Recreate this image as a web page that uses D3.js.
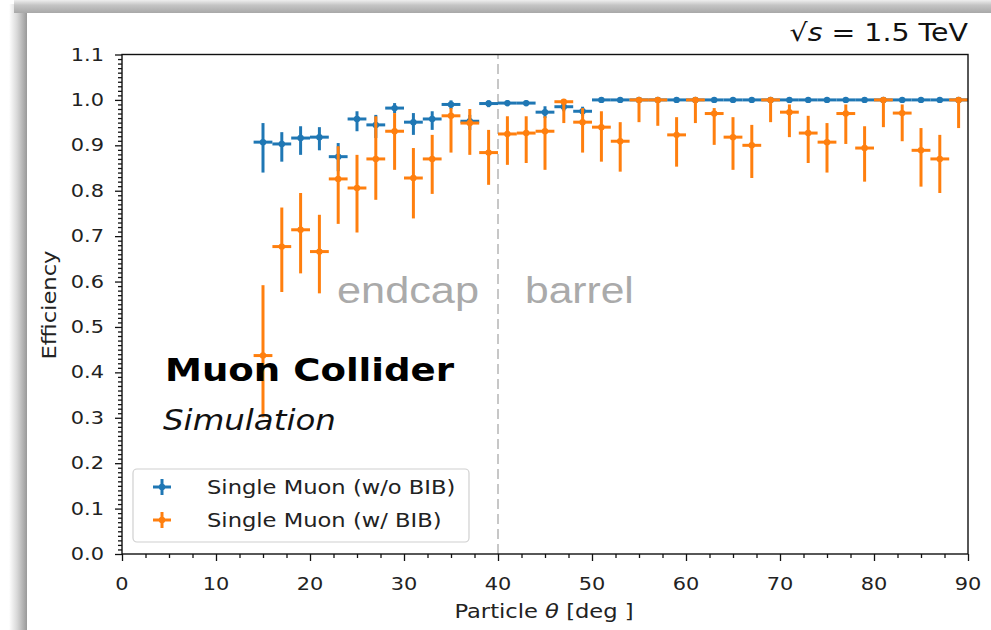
<!DOCTYPE html>
<html>
<head>
<meta charset="utf-8">
<script src="https://cdn.jsdelivr.net/npm/d3@7"></script>
<style>
  html, body { margin: 0; padding: 0; background: #fff; }
  svg { display: block; }
</style>
</head>
<body>
<svg id="chart" width="991" height="630"></svg>
<script>
// ---------------- DATA ----------------
const thetaBins = [15,17,19,21,23,25,27,29,31,33,35,37,39,41,43,45,47,49,51,53,55,57,59,61,63,65,67,69,71,73,75,77,79,81,83,85,87,89];
const binHalfWidth = 1;

const effNoBIB = [0.907,0.903,0.916,0.918,0.875,0.958,0.945,0.982,0.951,0.958,0.990,0.953,0.992,0.993,0.993,0.973,0.985,0.975,
  1.0,1.0,1.0,1.0,1.0,1.0,1.0,1.0,1.0,1.0,1.0,1.0,1.0,1.0,1.0,1.0,1.0,1.0,1.0,1.0];
const errLoNoBIB = [0.067,0.039,0.037,0.029,0.032,0.027,0.029,0.011,0.028,0.024,0.010,0.019,0.008,0.007,0.007,0.013,0.010,0.010,
  0.002,0.002,0.002,0.002,0.002,0.002,0.002,0.002,0.002,0.002,0.002,0.002,0.002,0.002,0.002,0.002,0.002,0.002,0.002,0.002];
const errHiNoBIB = [0.042,0.026,0.026,0.022,0.030,0.017,0.022,0.011,0.020,0.017,0.009,0.014,0.007,0.006,0.006,0.013,0.010,0.010,
  0,0,0,0,0,0,0,0,0,0,0,0,0,0,0,0,0,0,0,0];

const effBIB = [0.437,0.677,0.714,0.666,0.826,0.806,0.870,0.931,0.828,0.870,0.965,0.949,0.884,0.925,0.927,0.931,0.996,0.951,
  0.940,0.909,1.0,1.0,0.923,1.0,0.970,0.918,0.900,1.0,0.973,0.927,0.907,0.970,0.894,1.0,0.971,0.889,0.870,1.0];
const errLoBIB = [0.136,0.100,0.096,0.092,0.099,0.098,0.090,0.085,0.089,0.077,0.081,0.070,0.071,0.068,0.066,0.085,0.047,0.067,
  0.076,0.067,0.049,0.057,0.070,0.051,0.069,0.072,0.072,0.049,0.055,0.066,0.067,0.067,0.074,0.060,0.062,0.080,0.075,0.062];
const errHiBIB = [0.155,0.086,0.081,0.081,0.072,0.073,0.094,0.040,0.066,0.053,0.017,0.031,0.050,0.039,0.037,0.033,0.004,0.031,
  0.035,0.042,0,0,0.039,0,0.012,0.044,0.045,0,0.017,0.038,0.042,0.020,0.048,0,0.019,0.049,0.053,0];

const seriesNames = ["Single Muon (w/o BIB)", "Single Muon (w/ BIB)"];
const seriesColors = ["#1f77b4", "#ff7f0e"];

const xTickValues = [0,10,20,30,40,50,60,70,80,90];
const yTickValues = [0.0,0.1,0.2,0.3,0.4,0.5,0.6,0.7,0.8,0.9,1.0,1.1];
const regionLabels = ["endcap", "barrel"];
const boundaryTheta = 40;

// ---------------- LAYOUT ----------------
const W = 991, H = 630;
const plot = { left: 122, right: 968, top: 54.5, bottom: 554 };
const SX = 1.16; // horizontal text stretch of the original rendering
const FONT = "'DejaVu Sans', sans-serif";

const svg = d3.select("#chart");

// drop-shadow frame
const defs = svg.append("defs");
const gl = defs.append("linearGradient").attr("id", "shadowL").attr("x1", 0).attr("x2", 1).attr("y1", 0).attr("y2", 0);
gl.append("stop").attr("offset", "0%").attr("stop-color", "#ffffff");
gl.append("stop").attr("offset", "45%").attr("stop-color", "#d8d8d8");
gl.append("stop").attr("offset", "100%").attr("stop-color", "#999999");
const gt = defs.append("linearGradient").attr("id", "shadowT").attr("x1", 0).attr("x2", 0).attr("y1", 0).attr("y2", 1);
gt.append("stop").attr("offset", "0%").attr("stop-color", "#eeeeee");
gt.append("stop").attr("offset", "40%").attr("stop-color", "#c4c4c4");
gt.append("stop").attr("offset", "100%").attr("stop-color", "#a8a8a8");

svg.append("rect").attr("x", 0).attr("y", 0).attr("width", W).attr("height", H).attr("fill", "#fff");
svg.append("rect").attr("x", 9).attr("y", 4).attr("width", 18).attr("height", H - 4).attr("fill", "url(#shadowL)");
svg.append("rect").attr("x", 14).attr("y", 0).attr("width", W - 14).attr("height", 13).attr("fill", "url(#shadowT)");
svg.append("rect").attr("x", 27).attr("y", 13).attr("width", W - 27).attr("height", H - 13).attr("fill", "#fff");

// ---------------- SCALES ----------------
const x = d3.scaleLinear().domain([0, 90]).range([plot.left, plot.right]);
const y = d3.scaleLinear().domain([0, 1.1]).range([plot.bottom, plot.top]);

function stretchedText(g, px, py, str, opts = {}) {
  const t = g.append("text")
    .attr("transform", `translate(${px},${py})` + (opts.rotate ? ` rotate(${opts.rotate})` : "") + ` scale(${opts.sx || SX},1)`)
    .attr("font-family", opts.family || FONT)
    .attr("font-size", opts.size || 18)
    .attr("fill", opts.fill || "#222")
    .attr("text-anchor", opts.anchor || "start")
    .attr("dominant-baseline", opts.baseline || "auto");
  if (opts.weight) t.attr("font-weight", opts.weight);
  if (opts.style) t.attr("font-style", opts.style);
  t.text(str);
  return t;
}

// ---------------- AXES ----------------
const xAxis = d3.axisBottom(x).tickValues(xTickValues).tickSize(7).tickFormat("");
const xMinor = d3.axisBottom(x).tickValues(d3.range(0, 90.01, 2.5).filter(v => v % 10 !== 0)).tickSize(4).tickFormat("");
const yAxis = d3.axisLeft(y).tickValues(yTickValues).tickSize(7).tickFormat("");
const yMinor = d3.axisLeft(y).tickValues(d3.range(0, 1.1001, 0.01).filter(v => Math.abs(Math.round(v * 10) - v * 10) > 1e-6)).tickSize(4).tickFormat("");

function styleAxis(sel) {
  sel.select(".domain").remove();
  sel.selectAll("line").attr("stroke", "#111").attr("stroke-width", 1.3);
}
svg.append("g").attr("transform", `translate(0,${plot.bottom})`).call(xMinor).call(styleAxis);
svg.append("g").attr("transform", `translate(0,${plot.bottom})`).call(xAxis).call(styleAxis);
svg.append("g").attr("transform", `translate(${plot.left},0)`).call(yMinor).call(styleAxis);
svg.append("g").attr("transform", `translate(${plot.left},0)`).call(yAxis).call(styleAxis);

const labels = svg.append("g");
xTickValues.forEach(v => stretchedText(labels, x(v), 590, d3.format("d")(v), { anchor: "middle", size: 18 }));
yTickValues.forEach(v => stretchedText(labels, 104, y(v), d3.format(".1f")(v), { anchor: "end", size: 18, baseline: "central" }));

// axis titles
const xt = stretchedText(labels, 544, 618, "", { anchor: "middle", size: 19.5 });
xt.append("tspan").text("Particle ");
xt.append("tspan").attr("font-style", "italic").text("θ");
xt.append("tspan").text(" [deg ]");
stretchedText(labels, 56, 305, "Efficiency", { anchor: "middle", size: 19.5, rotate: -90 });

// boundary line
svg.append("line")
  .attr("x1", x(boundaryTheta)).attr("x2", x(boundaryTheta))
  .attr("y1", plot.bottom).attr("y2", plot.top)
  .attr("stroke", "#9a9a9a").attr("stroke-width", 1.1).attr("stroke-dasharray", "10,5");

// region labels
stretchedText(svg, 337, 303, regionLabels[0], { family: "'Liberation Sans', Arial, sans-serif", size: 37, fill: "#aaaaaa", sx: 1.17 });
stretchedText(svg, 525, 303, regionLabels[1], { family: "'Liberation Sans', Arial, sans-serif", size: 37, fill: "#aaaaaa", sx: 1.15 });

// ---------------- DATA MARKS ----------------
const series = [
  { name: seriesNames[0], color: seriesColors[0], eff: effNoBIB, lo: errLoNoBIB, hi: errHiNoBIB },
  { name: seriesNames[1], color: seriesColors[1], eff: effBIB, lo: errLoBIB, hi: errHiBIB }
];

series.forEach(s => {
  const g = svg.append("g");
  const pts = thetaBins.map((t, i) => ({ t, v: s.eff[i], lo: s.lo[i], hi: s.hi[i] }));
  g.selectAll("line.h").data(pts).join("line").attr("class", "h")
    .attr("x1", d => x(d.t - binHalfWidth)).attr("x2", d => x(d.t + binHalfWidth))
    .attr("y1", d => y(d.v)).attr("y2", d => y(d.v))
    .attr("stroke", s.color).attr("stroke-width", 3);
  g.selectAll("line.v").data(pts).join("line").attr("class", "v")
    .attr("x1", d => x(d.t)).attr("x2", d => x(d.t))
    .attr("y1", d => y(d.v - d.lo)).attr("y2", d => y(d.v + d.hi))
    .attr("stroke", s.color).attr("stroke-width", 3);
  g.selectAll("circle").data(pts).join("circle")
    .attr("cx", d => x(d.t)).attr("cy", d => y(d.v)).attr("r", 3.2)
    .attr("fill", s.color);
});

// spines
svg.append("rect")
  .attr("x", plot.left).attr("y", plot.top)
  .attr("width", plot.right - plot.left).attr("height", plot.bottom - plot.top)
  .attr("fill", "none").attr("stroke", "#111").attr("stroke-width", 1.4);

// ---------------- ANNOTATIONS ----------------
stretchedText(svg, 165, 381, "Muon Collider", { size: 32, weight: "bold", fill: "#000" });
stretchedText(svg, 163, 430, "Simulation", { size: 28, style: "italic", fill: "#111" });

// sqrt(s) label
const ecm = stretchedText(svg, 0, 0, "", { size: 24.5, fill: "#111" });
ecm.append("tspan").text("√");
ecm.append("tspan").attr("font-style", "italic").text("s");
ecm.append("tspan").text(" = 1.5 TeV");
{
  const node = ecm.node();
  const w = node.getComputedTextLength();
  ecm.attr("transform", `translate(${968 - w * SX},41) scale(${SX},1)`);
  const ext = node.getExtentOfChar(1);
  const rootExt = node.getExtentOfChar(0);
  ecm.append("line")
    .attr("x1", rootExt.x + rootExt.width - 1.5).attr("x2", ext.x + ext.width + 0.5)
    .attr("y1", rootExt.y + 1.5).attr("y2", rootExt.y + 1.5)
    .attr("stroke", "#111").attr("stroke-width", 1.4);
}

// ---------------- LEGEND ----------------
const leg = svg.append("g");
leg.append("rect").attr("x", 133).attr("y", 469).attr("width", 336).attr("height", 73)
  .attr("rx", 4).attr("fill", "#fff").attr("fill-opacity", 0.85)
  .attr("stroke", "#d0d0d0").attr("stroke-width", 1.2);
series.forEach((s, i) => {
  const cy = 487 + i * 33, cx = 162;
  leg.append("line").attr("x1", cx - 9).attr("x2", cx + 9).attr("y1", cy).attr("y2", cy)
    .attr("stroke", s.color).attr("stroke-width", 3);
  leg.append("line").attr("x1", cx).attr("x2", cx).attr("y1", cy - 8).attr("y2", cy + 8)
    .attr("stroke", s.color).attr("stroke-width", 3);
  leg.append("circle").attr("cx", cx).attr("cy", cy).attr("r", 3.2).attr("fill", s.color);
  stretchedText(leg, 207, cy, s.name, { size: 19.5, baseline: "central" });
});
</script>
</body>
</html>
